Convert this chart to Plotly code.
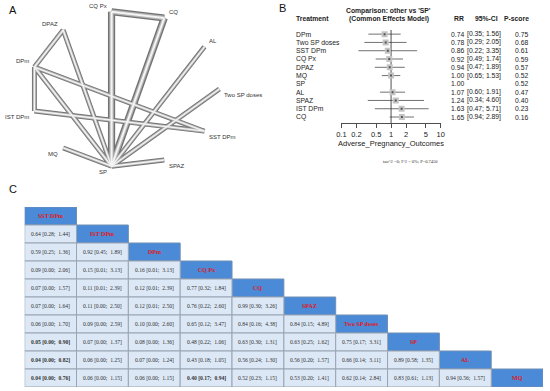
import math
import plotly.graph_objects as go

W, H = 550, 391

# ---------------- Panel A: network ----------------
net_nodes = ["CQ Px", "CQ", "AL", "Two SP doses", "SST DPm", "SPAZ", "SP", "MQ", "IST DPm", "DPm", "DPAZ"]
edge_a = ["CQ Px", "CQ Px", "CQ", "DPAZ", "DPAZ", "DPm", "DPm", "DPm", "IST DPm", "AL", "Two SP doses", "MQ", "SPAZ"]
edge_b = ["CQ", "SP", "SP", "DPm", "SP", "IST DPm", "SST DPm", "SP", "SST DPm", "SP", "SP", "SP", "SP"]
edge_studies = [2, 2, 2, 1, 1, 1, 1, 1, 1, 1, 1, 1, 1]

# ---------------- Panel B: forest ----------------
forest_treat = ["DPm", "Two SP doses", "SST DPm", "CQ Px", "DPAZ", "MQ", "SP", "AL", "SPAZ", "IST DPm", "CQ"]
forest_rr = [0.74, 0.78, 0.86, 0.92, 0.94, 1.00, 1.00, 1.07, 1.24, 1.63, 1.65]
forest_lo = [0.35, 0.29, 0.22, 0.49, 0.47, 0.65, None, 0.60, 0.34, 0.47, 0.94]
forest_hi = [1.56, 2.05, 3.35, 1.74, 1.89, 1.53, None, 1.91, 4.60, 5.71, 2.89]
forest_pscore = [0.75, 0.68, 0.61, 0.59, 0.57, 0.52, 0.52, 0.47, 0.40, 0.23, 0.16]
forest_ticks = [0.1, 0.2, 0.5, 1, 2, 5, 10]
forest_ticktext = ["0.1", "0.2", "0.5", "1", "2", "5", "10"]

# ---------------- Panel C: league table ----------------
league_labels = ["SST DPm", "IST DPm", "DPm", "CQ Px", "CQ", "SPAZ", "Two SP doses", "SP", "AL", "MQ"]
league_est = [
    [],
    [0.64],
    [0.59, 0.92],
    [0.09, 0.15, 0.16],
    [0.07, 0.11, 0.12, 0.77],
    [0.07, 0.11, 0.12, 0.76, 0.99],
    [0.06, 0.09, 0.10, 0.65, 0.84, 0.84],
    [0.05, 0.07, 0.08, 0.48, 0.63, 0.63, 0.75],
    [0.04, 0.06, 0.07, 0.43, 0.56, 0.56, 0.66, 0.89],
    [0.04, 0.06, 0.06, 0.40, 0.52, 0.53, 0.62, 0.83, 0.94],
]
league_lo = [
    [],
    [0.28],
    [0.25, 0.45],
    [0.00, 0.01, 0.01],
    [0.00, 0.01, 0.01, 0.32],
    [0.00, 0.00, 0.01, 0.22, 0.30],
    [0.00, 0.00, 0.00, 0.12, 0.16, 0.15],
    [0.00, 0.00, 0.00, 0.22, 0.30, 0.25, 0.17],
    [0.00, 0.00, 0.00, 0.18, 0.24, 0.20, 0.14, 0.58],
    [0.00, 0.00, 0.00, 0.17, 0.23, 0.20, 0.14, 0.61, 0.56],
]
league_hi = [
    [],
    [1.44],
    [1.36, 1.89],
    [2.06, 3.13, 3.13],
    [1.57, 2.39, 2.39, 1.84],
    [1.64, 2.50, 2.50, 2.60, 3.26],
    [1.70, 2.59, 2.60, 3.47, 4.38, 4.89],
    [0.90, 1.37, 1.36, 1.06, 1.31, 1.62, 3.31],
    [0.82, 1.25, 1.24, 1.05, 1.30, 1.57, 3.11, 1.35],
    [0.76, 1.15, 1.15, 0.94, 1.15, 1.41, 2.84, 1.13, 1.57],
]

SANS = "Liberation Sans, Arial, sans-serif"
SERIF = "Liberation Serif, Times New Roman, serif"

fig = go.Figure()
annotations = []
shapes = []


def px2x(p):
    return p / W


def px2y(p):
    return 1 - p / H


# ----- network layout (circle) -----
cx, cy, rx, ry = 122, 89, 96, 78
n = len(net_nodes)
pos = {}
angles = {}
for k, name in enumerate(net_nodes):
    th = math.radians(90 + 90 / n - 360 / n * k)
    angles[name] = th
    pos[name] = (cx + rx * math.cos(th), cy - ry * math.sin(th))

layers = [("#727272", 1.0), ("#b3b3b3", 0.62), ("#f4f4f4", 0.28)]
for color, frac in layers:
    for studies in sorted(set(edge_studies)):
        xs, ys = [], []
        for a, b, s in zip(edge_a, edge_b, edge_studies):
            if s != studies:
                continue
            xs += [pos[a][0], pos[b][0], None]
            ys += [pos[a][1], pos[b][1], None]
        base = 4.9 if studies == 1 else 7.2
        fig.add_trace(go.Scatter(x=xs, y=ys, mode="lines", xaxis="x4", yaxis="y4",
                                 line=dict(color=color, width=base * frac),
                                 hoverinfo="skip", showlegend=False))

for name in net_nodes:
    th = angles[name]
    c, s = math.cos(th), math.sin(th)
    annotations.append(dict(
        x=pos[name][0], y=pos[name][1], xref="x4", yref="y4", text=name, showarrow=False,
        xanchor="left" if c > 0 else "right", yanchor="bottom" if s > 0 else "top",
        xshift=3 if c > 0 else -3, yshift=1 if s > 0 else -1,
        font=dict(family=SANS, size=6, color="#333333")))

# ----- forest -----
rows = list(range(len(forest_treat)))
ci_x, ci_y = [], []
for i, (lo, hi) in enumerate(zip(forest_lo, forest_hi)):
    if lo is None:
        continue
    ci_x += [lo, hi, None]
    ci_y += [i, i, None]
fig.add_trace(go.Scatter(x=[1, 1], y=[-0.5, 10.72], mode="lines", xaxis="x2", yaxis="y2",
                         line=dict(color="#222222", width=0.8), hoverinfo="skip", showlegend=False))
fig.add_trace(go.Scatter(x=ci_x, y=ci_y, mode="lines", xaxis="x2", yaxis="y2",
                         line=dict(color="#333333", width=0.7), hoverinfo="skip", showlegend=False))
sq_x = [r for r, lo in zip(forest_rr, forest_lo) if lo is not None]
sq_y = [i for i, lo in zip(rows, forest_lo) if lo is not None]
fig.add_trace(go.Scatter(x=sq_x, y=sq_y, mode="markers", xaxis="x2", yaxis="y2",
                         marker=dict(symbol="square", size=6, color="#c4c4c4",
                                     line=dict(width=0)), hoverinfo="skip", showlegend=False))
fig.add_trace(go.Scatter(x=sq_x, y=sq_y, mode="markers", xaxis="x2", yaxis="y2",
                         marker=dict(symbol="square", size=2, color="#555555"),
                         hoverinfo="skip", showlegend=False))

FS = 6.8
ff = dict(family=SANS, size=FS, color="#222222")
ffb = dict(family=SANS, size=FS, color="#222222", weight="bold")
for i, t in enumerate(forest_treat):
    annotations.append(dict(x=px2x(294), y=i, xref="paper", yref="y2", text=t, showarrow=False,
                            xanchor="left", yanchor="middle", font=ff))
    annotations.append(dict(x=px2x(469), y=i, xref="paper", yref="y2", text=f"{forest_rr[i]:.2f}",
                            showarrow=False, xanchor="right", yanchor="middle", font=ff))
    if forest_lo[i] is not None:
        annotations.append(dict(x=px2x(506), y=i, xref="paper", yref="y2",
                                text=f"[{forest_lo[i]:.2f}; {forest_hi[i]:.2f}]",
                                showarrow=False, xanchor="right", yanchor="middle", font=ff))
    annotations.append(dict(x=px2x(534), y=i, xref="paper", yref="y2", text=f"{forest_pscore[i]:.2f}",
                            showarrow=False, xanchor="right", yanchor="middle", font=ff))

hdr = [("Treatment", 294, 19, "left"), ("RR", 469, 19, "right"), ("95%-CI", 490, 19, "center"),
       ("P-score", 535, 19, "right")]
for t, x, y, xa in hdr:
    annotations.append(dict(x=px2x(x), y=px2y(y), xref="paper", yref="paper", text=t, showarrow=False,
                            xanchor=xa, yanchor="middle", font=ffb))
annotations.append(dict(x=px2x(390), y=px2y(11), xref="paper", yref="paper",
                        text="Comparison: other vs 'SP'", showarrow=False,
                        xanchor="center", yanchor="middle", font=ffb))
annotations.append(dict(x=px2x(390), y=px2y(19), xref="paper", yref="paper",
                        text="(Common Effects Model)", showarrow=False,
                        xanchor="center", yanchor="middle", font=ffb))
annotations.append(dict(x=px2x(392.5), y=px2y(143), xref="paper", yref="paper",
                        text="Adverse_Pregnancy_Outcomes", showarrow=False,
                        xanchor="center", yanchor="middle", font=dict(family=SANS, size=7.5, color="#222222")))
annotations.append(dict(x=px2x(412), y=px2y(161), xref="paper", yref="paper",
                        text="tau^2 =0; I^2 = 0%; P=0.7450", showarrow=False,
                        xanchor="center", yanchor="middle", font=dict(family=SERIF, size=4.5, color="#333333")))

# ----- league table -----
HEAD_FILL = "#4a8ad6"
CELL_FILL = "#dce8f6"
for i, lab in enumerate(league_labels):
    shapes.append(dict(type="rect", xref="x3", yref="y3", x0=i, x1=i + 1, y0=i, y1=i + 1,
                       fillcolor=HEAD_FILL, line=dict(color="#6f8fb5", width=1), layer="above"))
    annotations.append(dict(x=i + 0.5, y=i + 0.5, xref="x3", yref="y3", text=f"<b>{lab}</b>",
                            showarrow=False, xanchor="center", yanchor="middle",
                            font=dict(family=SERIF, size=6, color="#e0161b")))
    for j in range(i):
        e, lo, hi = league_est[i][j], league_lo[i][j], league_hi[i][j]
        shapes.append(dict(type="rect", xref="x3", yref="y3", x0=j, x1=j + 1, y0=i, y1=i + 1,
                           fillcolor=CELL_FILL, line=dict(color="#9aa4b2", width=1), layer="above"))
        txt = f"{e:.2f} [{lo:.2f};&nbsp;&nbsp;{hi:.2f}]"
        if hi < 1:
            txt = f"<b>{txt}</b>"
        annotations.append(dict(x=j + 0.5, y=i + 0.5, xref="x3", yref="y3", text=txt,
                                showarrow=False, xanchor="center", yanchor="middle",
                                font=dict(family=SERIF, size=5.6, color="#333333")))

# panel letters
for t, x, y in [("A", 8, 10), ("B", 282, 8), ("C", 8, 189)]:
    annotations.append(dict(x=px2x(x), y=px2y(y), xref="paper", yref="paper", text=t, showarrow=False,
                            xanchor="center", yanchor="middle",
                            font=dict(family=SANS, size=11, color="#111111")))

hidden = dict(visible=False, showgrid=False, zeroline=False, fixedrange=True)
fig.update_layout(
    width=W, height=H, autosize=False,
    margin=dict(l=0, r=0, t=0, b=0),
    paper_bgcolor="white", plot_bgcolor="rgba(0,0,0,0)",
    showlegend=False,
    xaxis=dict(visible=False, domain=[0, 0.01]),
    yaxis=dict(visible=False, domain=[0, 0.01]),
    xaxis2=dict(type="log", range=[-1, 1], domain=[px2x(342), px2x(443)], anchor="y2",
                showline=True, linecolor="#222222", linewidth=0.8, ticks="outside", ticklen=4,
                tickwidth=0.8, tickcolor="#222222", fixedrange=True,
                tickvals=forest_ticks, ticktext=forest_ticktext, showgrid=False, zeroline=False,
                tickfont=dict(family=SANS, size=7.5, color="#222222")),
    yaxis2=dict(range=[10.72, -0.5], domain=[px2y(123), px2y(30)], anchor="x2", **hidden),
    xaxis3=dict(range=[0, 10], domain=[px2x(20), px2x(547)], anchor="y3", **hidden),
    yaxis3=dict(range=[10, 0], domain=[px2y(387), px2y(207)], anchor="x3", **hidden),
    xaxis4=dict(range=[0, 275], domain=[0, 0.5], anchor="y4", **hidden),
    yaxis4=dict(range=[190, 0], domain=[px2y(190), 1], anchor="x4", **hidden),
    annotations=annotations,
    shapes=shapes,
)

fig.write_html("out.html", config={"displayModeBar": False, "staticPlot": True},
               post_script="document.body.style.margin='0';document.body.style.overflow='hidden';")
